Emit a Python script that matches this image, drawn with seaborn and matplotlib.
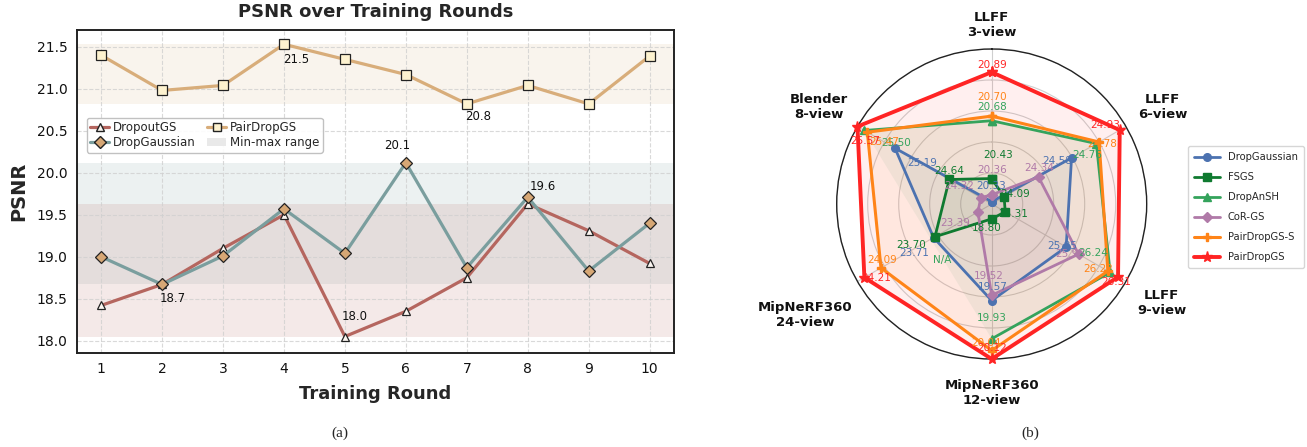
import numpy as np
import pandas as pd
import matplotlib
matplotlib.use("Agg")
import matplotlib.pyplot as plt
import seaborn as sns
from matplotlib.patches import Patch
from matplotlib.lines import Line2D

# ---------------- data: left panel ----------------
rounds = [1, 2, 3, 4, 5, 6, 7, 8, 9, 10]
dropoutgs = [18.42, 18.67, 19.10, 19.50, 18.05, 18.35, 18.75, 19.63, 19.31, 18.92]
dropgaussian = [19.00, 18.67, 19.01, 19.57, 19.04, 20.12, 18.87, 19.71, 18.83, 19.40]
pairdropgs = [21.40, 20.98, 21.04, 21.53, 21.35, 21.17, 20.82, 21.04, 20.82, 21.39]

# ---------------- data: right panel (radar) ----------------
radar_axes = ["LLFF\n3-view", "LLFF\n6-view", "LLFF\n9-view",
              "MipNeRF360\n12-view", "MipNeRF360\n24-view", "Blender\n8-view"]
radar_methods = ["DropGaussian", "FSGS", "DropAnSH", "CoR-GS", "PairDropGS-S", "PairDropGS"]
r_dropgaussian = [20.33, 24.58, 25.85, 19.57, 23.71, 25.19]
r_fsgs = [20.43, 24.09, 25.31, 18.80, 23.70, 24.64]
r_dropansh = [20.68, 24.76, 26.24, 19.93, np.nan, 25.50]
r_corgs = [20.36, 24.34, 25.96, 19.52, 23.39, 24.32]
r_pairdropgs_s = [20.70, 24.78, 26.22, 20.04, 24.09, 25.47]
r_pairdropgs = [20.89, 24.93, 26.31, 20.12, 24.21, 25.57]
# per-axis normalisation range of the radar
axis_lo = [20.32, 24.00, 25.19, 18.66, 23.29, 24.21]
axis_hi = [20.99, 24.975, 26.38, 20.12, 24.26, 25.57]

sns.set_style("white")
plt.rcParams['font.family'] = ['DejaVu Sans']

fig = plt.figure(figsize=(13.07, 4.47), dpi=100)

# ================= left panel =================
ax1 = fig.add_axes([0.0587, 0.2096, 0.457, 0.7233])
df = pd.DataFrame({"round": rounds, "DropoutGS": dropoutgs,
                   "DropGaussian": dropgaussian, "PairDropGS": pairdropgs})

c_do, c_dg, c_pd = "#b5665f", "#7a9e9e", "#d8ad7a"
band_alpha = {"DropoutGS": 0.14, "DropGaussian": 0.14, "PairDropGS": 0.13}
for name, col in [("PairDropGS", c_pd), ("DropGaussian", c_dg), ("DropoutGS", c_do)]:
    ax1.axhspan(df[name].min(), df[name].max(), color=col, alpha=band_alpha[name], lw=0, zorder=0)

sns.lineplot(data=df, x="round", y="DropoutGS", ax=ax1, color=c_do, lw=2.3,
             marker="^", markersize=6, markerfacecolor="#fbf5f0", markeredgecolor="#222222",
             markeredgewidth=0.9, zorder=3)
sns.lineplot(data=df, x="round", y="DropGaussian", ax=ax1, color=c_dg, lw=2.3,
             marker="D", markersize=6.5, markerfacecolor="#d6a775", markeredgecolor="#222222",
             markeredgewidth=0.9, zorder=4)
sns.lineplot(data=df, x="round", y="PairDropGS", ax=ax1, color=c_pd, lw=2.3,
             marker="s", markersize=6.5, markerfacecolor="#fdf2cf", markeredgecolor="#222222",
             markeredgewidth=0.9, zorder=3)

ax1.set_xlim(0.6, 10.4)
ax1.set_ylim(17.85, 21.70)
ax1.set_xticks(rounds)
ax1.set_yticks([18.0, 18.5, 19.0, 19.5, 20.0, 20.5, 21.0, 21.5])
ax1.set_yticklabels([f"{v:.1f}" for v in [18.0, 18.5, 19.0, 19.5, 20.0, 20.5, 21.0, 21.5]])
ax1.tick_params(labelsize=10, length=3, width=0.8, colors="#111111")
ax1.grid(True, linestyle="--", color="#d0d0d0", linewidth=0.8, alpha=0.8)
for s in ax1.spines.values():
    s.set_color("#222222")
    s.set_linewidth(1.4)
ax1.set_xlabel("Training Round", fontsize=13, fontweight="bold", labelpad=6)
ax1.set_ylabel("PSNR", fontsize=14, fontweight="bold", labelpad=6)
ax1.set_title("PSNR over Training Rounds", fontsize=13, fontweight="bold", pad=9)

# annotations of extrema
ann = [(4, 21.53, "21.5", (12, -15)), (7, 20.82, "20.8", (11, -13)),
       (6, 20.12, "20.1", (-9, 17)), (2, 18.67, "18.7", (11, -14)),
       (5, 18.05, "18.0", (10, 20)), (8, 19.63, "19.6", (15, 17))]
for x, y, t, off in ann:
    ax1.annotate(t, (x, y), xytext=off, textcoords="offset pixels",
                 ha="center", va="center", fontsize=8.5, color="#111111")

handles = [Line2D([], [], color=c_do, lw=2.3, marker="^", markersize=6,
                  markerfacecolor="#fbf5f0", markeredgecolor="#222222"),
           Line2D([], [], color=c_dg, lw=2.3, marker="D", markersize=6,
                  markerfacecolor="#d6a775", markeredgecolor="#222222"),
           Line2D([], [], color=c_pd, lw=2.3, marker="s", markersize=6,
                  markerfacecolor="#fdf2cf", markeredgecolor="#222222"),
           Patch(facecolor="#e9e9e9", edgecolor="none")]
leg1 = ax1.legend(handles, ["DropoutGS", "DropGaussian", "PairDropGS", "Min-max range"],
                  ncol=2, loc="upper left", bbox_to_anchor=(0.017, 0.728), borderaxespad=0,
                  fontsize=8.5, handlelength=1.6, handletextpad=0.3, columnspacing=1.0,
                  labelspacing=0.15, borderpad=0.3, frameon=True, framealpha=0.9)
leg1.get_frame().set_edgecolor("#bbbbbb")

# ================= right panel (radar) =================
R = 155
cx, cy = 991.7, 204
ax2 = fig.add_axes([(cx - R) / 1307, (447 - cy - R) / 447, 2 * R / 1307, 2 * R / 447], polar=True)
ax2.set_theta_offset(np.pi / 2)
ax2.set_theta_direction(-1)
n = len(radar_axes)
angles = np.deg2rad(np.arange(n) * 360.0 / n)
ax2.set_xticks(angles)
ax2.set_xticklabels([])
ax2.set_ylim(0, 1)
ax2.set_yticks([0.2, 0.4, 0.6, 0.8, 1.0])
ax2.set_yticklabels([])
ax2.grid(color="#cfcfcf", linewidth=0.8)
ax2.spines["polar"].set_color("#222222")
ax2.spines["polar"].set_linewidth(1.0)

series = [r_dropgaussian, r_fsgs, r_dropansh, r_corgs, r_pairdropgs_s, r_pairdropgs]
colors = ["#4c72b0", "#0f7a30", "#34a35c", "#b07aa8", "#ff8418", "#ff2424"]
markers = ["o", "s", "^", "D", "P", "*"]
msizes = [5.5, 5.5, 6, 5, 6, 8]
lws = [2.0, 2.0, 2.0, 2.0, 2.2, 2.8]
lo = np.array(axis_lo)
hi = np.array(axis_hi)

# label offsets (pixels) per method, per axis
label_off = [
    [(-1, 16), (-14, -3), (-4, 1), (1, 14), (-19, -15), (27, -15)],
    [(6, 24), (11, 3), (8, -2), (-5, -9), (-24, -8), (0, 8)],
    [(0, 14), (-9, -11), (-17, 19), (0, 21), None, (32, -13)],
    [(0, 25), (1, 9), (-8, 0), (-3, 19), (-23, -11), (-22, 12)],
    [(0, 19), (3, -2), (-10, 2), (-6, 8), (1, 8), (17, -10)],
    [(0, 7), (-15, 5), (-2, -5), (0, 11), (12, 0), (8, -14)],
]

ang_closed = np.concatenate([angles, angles[:1]])
handles2 = []
for i, (name, vals) in enumerate(zip(radar_methods, series)):
    v = np.array(vals, dtype=float)
    rn = (v - lo) / (hi - lo)
    rc = np.concatenate([rn, rn[:1]])
    ok = ~np.isnan(rn)
    ax2.fill(angles[ok], rn[ok], color=colors[i], alpha=0.07, lw=0, zorder=1)
    ln, = ax2.plot(ang_closed, rc, color=colors[i], lw=lws[i], marker=markers[i],
                   markersize=msizes[i], clip_on=False, zorder=3 + i, label=name)
    handles2.append(ln)
    for j in range(n):
        if np.isnan(rn[j]):
            continue
        ax2.annotate(f"{v[j]:.2f}", (angles[j], rn[j]), xytext=label_off[i][j],
                     textcoords="offset pixels", ha="center", va="center",
                     fontsize=7.5, color=colors[i], zorder=10, annotation_clip=False)

# N/A marker text for DropAnSH
ax2.text(np.deg2rad(221.6), 0.48, "N/A", color=colors[2], fontsize=7.5,
         ha="center", va="center", zorder=10)

# axis category labels
lab_r = [1.155, 1.27, 1.27, 1.22, 1.40, 1.28]
lab_t = [0, 60.4, 120.2, 180, 239.3, 299.3]
for t, r, s in zip(lab_t, lab_r, radar_axes):
    ax2.text(np.deg2rad(t), r, s, ha="center", va="center", fontsize=9.5,
             fontweight="bold", color="#111111", linespacing=1.15)

leg2 = fig.legend(handles2, radar_methods, loc="center left",
                  bbox_to_anchor=(1183 / 1307, (447 - 207) / 447), fontsize=7.2,
                  handlelength=2.6, handletextpad=0.8, labelspacing=1.0,
                  borderpad=0.6, frameon=True)
leg2.get_frame().set_edgecolor("#cccccc")

# captions
fig.text(340 / 1307, 1 - 433 / 447, "(a)", ha="center", va="center",
         fontsize=11, family="Liberation Serif")
fig.text(1030 / 1307, 1 - 433 / 447, "(b)", ha="center", va="center",
         fontsize=11, family="Liberation Serif")

fig.savefig("out.png", dpi=100)
